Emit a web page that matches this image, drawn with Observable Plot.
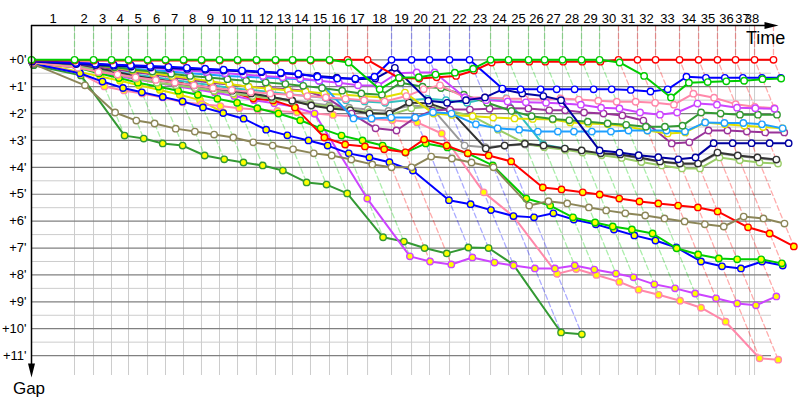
<!DOCTYPE html>
<html><head><meta charset="utf-8">
<script src="https://cdn.jsdelivr.net/npm/d3@7"></script>
<script src="https://cdn.jsdelivr.net/npm/@observablehq/plot@0.6"></script>
<style>html,body{margin:0;padding:0;background:#fff}#chart{position:absolute;left:0;top:0}</style>
</head><body><div id="chart"></div>
<script>
// leader's cumulative time (minutes) at the end of each lap, lap 0 = start
const lapTimes = [0,3.91,5.64,7.27,8.82,10.55,12.18,13.82,15.45,17.09,18.73,20.45,22.18,23.73,25.36,27.09,28.73,30.55,32.73,34.55,36.18,38.0,39.82,41.73,43.36,45.18,46.64,48.27,50.0,51.64,53.36,55.09,56.73,58.91,60.64,62.36,64.0,65.73,67.45];
// grey vertical grid lines (minutes)
const gridTimes = [3.91,5.64,7.27,8.82,10.55,12.18,13.82,15.45,17.09,18.73,20.45,22.18,23.73,25.36,27.09,28.73,30.55,32.73,34.55,36.18,38.0,39.82,41.73,43.36,45.18,46.64,48.27,50.0,51.64,53.36,55.09,56.73,58.91,60.64,62.36,64.0,65.27,65.73];
const lapLabels = d3.range(1, 39).map(String);
const gapTicks = d3.range(0, 12);

// gap to leader (minutes) per lap, index = lap (0 = start)
const N = null;
const redW     = [0.02,0.03,0.03,0.03,0.03,0.03,0.03,0.03,0.03,0.03,0.03,0.03,0.03,0.03,0.03,0.03,0,0,0.68,0.7,0.65,0.6,0.4,0.1,0.07,0.07,0.07,0.07,0.07,0.07,0,0,0,0,0,0,0,0,0];
const greenW   = [0,0,0,0,0,0,0,0,0,0,0,0,0,0,0,0,0.1,1.1,0.67,0.65,0.55,0.48,0.33,0,0,0,0,0,0,0,0.1,0.6,1.4,0.85,0.83,0.8,0.78,0.72,0.7];
const blueA    = [0.04,0.12,0.15,0.18,0.2,0.23,0.26,0.3,0.33,0.37,0.4,0.44,0.48,0.52,0.63,0.7,0.7,0.63,0,0,0,0,0,1.07,1.1,1.1,1.1,1.1,1.1,1.1,1.12,1.18,1.1,0.63,0.67,0.67,0.67,0.67,0.67];
const blueB    = [0.06,0.16,0.19,0.22,0.25,0.28,0.31,0.34,0.37,0.4,0.43,0.46,0.5,0.55,0.6,0.66,0.72,0.7,0.3,1.52,1.6,1.5,1.4,1.1,1.25,1.35,1.5,3.37,3.45,3.55,3.62,3.7,3.63,3.1,3.1,3.1,3.1,3.1,N];
const magentaW = [0.03,0.1,0.15,0.2,0.25,0.3,0.35,0.4,0.45,0.5,0.55,0.6,0.65,0.7,0.78,0.85,0.95,0.96,0.5,0.47,0.47,1.4,1.5,1.55,1.58,1.6,1.63,1.67,1.78,1.81,1.96,2.04,1.96,1.63,1.67,1.78,1.8,1.82,N];
const pinkW    = [0.1,0.3,0.45,0.55,0.65,0.75,0.85,0.95,1.05,1.12,1.2,1.25,1.3,1.35,1.4,1.45,1.5,1.55,1.35,1.1,0.95,1.4,1.4,1.45,1.45,1.48,1.44,1.48,1.52,1.56,1.56,1.6,1.67,1.26,1.41,1.65,1.75,1.8,N];
const dkgreenW = [0.05,0.12,0.2,0.28,0.36,0.44,0.52,0.6,0.66,0.72,0.78,0.84,0.9,0.97,1.05,1.15,1.25,1.3,0.85,1.0,1.05,1.3,1.6,1.9,2.1,2.2,2.25,2.3,2.37,2.42,2.49,2.49,2.45,1.96,2.0,2.04,2.04,2.04,N];
const lblueW   = [0.03,0.1,0.18,0.25,0.32,0.38,0.44,0.5,0.55,0.6,0.63,0.66,0.7,0.72,0.78,2.18,2.18,2.15,2.15,1.95,2.0,2.4,2.55,2.6,2.67,2.67,2.67,2.67,2.67,2.63,2.63,2.63,2.67,2.33,2.35,2.35,2.4,2.55,N];
const yellowW  = [0.05,0.1,0.2,0.3,0.4,0.5,0.6,0.7,0.8,0.9,1.0,1.08,1.13,1.18,1.25,1.3,1.35,1.4,1.22,2.0,2.05,2.1,2.15,2.18,2.2,2.22,2.33,2.37,2.4,2.48,2.63,2.74,2.7,2.33,2.4,2.45,2.5,2.55,N];
const purpleW  = [0.06,0.15,0.25,0.35,0.45,0.55,0.65,0.75,0.85,0.92,1.0,1.05,1.1,1.15,1.4,2.0,2.55,2.63,2.15,1.89,1.85,1.85,1.82,1.8,1.81,1.88,1.88,1.96,2.0,2.07,2.26,3.11,3.07,2.63,2.63,2.67,2.7,2.7,N];
const blackW   = [0.1,0.15,0.3,0.45,0.6,0.72,0.85,0.95,1.05,1.15,1.25,1.38,1.52,1.7,1.81,1.88,2.0,2.0,1.59,1.63,1.88,3.3,3.19,3.12,3.19,3.3,3.37,3.48,3.52,3.63,3.78,3.86,3.86,3.45,3.56,3.63,3.71,N,N];
const grayW    = [0.08,0.2,0.35,0.5,0.62,0.75,0.88,1.0,1.1,1.2,1.3,1.4,1.5,1.6,1.7,1.78,1.85,1.9,1.7,1.75,3.19,3.25,3.19,3.15,3.22,3.33,3.4,3.5,3.55,3.66,3.8,3.88,3.88,3.48,3.58,3.66,3.74,N,N];
const lgreenW  = [0.1,0.25,0.4,0.55,0.7,0.85,0.95,1.05,1.15,1.25,1.35,1.45,1.55,1.65,1.75,1.85,1.95,2.05,1.8,1.75,1.9,2.1,2.6,3.1,3.25,3.35,3.45,3.55,3.65,3.8,3.93,4.04,4.04,3.63,3.74,3.82,3.86,N,N];
const cyanW    = [0.07,0.2,0.32,0.44,0.55,0.65,0.75,0.85,0.95,1.05,1.12,1.2,1.28,1.35,1.42,1.5,1.55,1.6,1.5,1.45,1.5,1.6,1.45,1.44,3.15,3.3,N,N,N,N,N,N,N,N,N,N,N,N,N];
const oliveW   = [0.15,0.95,1.96,2.26,2.37,2.56,2.67,2.78,2.89,3.07,3.19,3.33,3.48,3.56,3.71,3.89,4.0,4.0,3.6,3.67,3.82,4.0,5.42,5.26,5.34,5.49,5.6,5.71,5.79,5.9,6.01,6.12,6.2,5.83,5.9,6.09,N,N,N];
const redY     = [0.05,0.25,0.35,0.43,0.62,0.69,0.77,1.03,1.14,1.22,1.44,1.51,1.77,2.89,3.15,3.22,3.33,3.44,2.96,3.19,3.48,3.56,3.78,4.75,4.82,4.93,5.01,5.16,5.27,5.34,5.42,5.49,5.64,6.23,6.46,6.94,N,N,N];
const greenY   = [0.1,0.3,0.5,0.68,0.85,1.0,1.15,1.3,1.45,1.6,1.8,2.0,2.25,2.55,2.82,3.0,3.19,3.45,3.11,3.26,3.48,3.93,5.16,5.42,5.86,6.05,6.2,6.31,6.46,7.01,7.24,7.39,7.42,7.42,7.57,N,N,N,N];
const blueY    = [0.15,0.5,0.81,1.05,1.21,1.38,1.55,1.77,1.98,2.19,2.6,2.81,3.0,3.19,3.48,3.63,3.81,4.12,5.22,5.37,5.59,5.81,5.86,5.71,5.94,6.12,6.31,6.53,6.72,6.98,7.5,7.68,7.76,7.5,7.65,N,N,N,N];
const magentaY = [0.1,0.3,0.45,0.6,0.72,0.85,0.98,1.1,1.22,1.35,1.5,1.62,1.75,2.0,5.16,7.31,7.5,7.61,7.35,7.54,7.65,7.76,7.76,7.65,7.8,7.95,8.09,8.35,8.5,8.69,8.87,9.06,9.13,8.8,N,N,N,N,N];
const pinkY    = [0.1,0.5,0.99,1.14,1.25,1.4,1.58,1.65,1.72,1.8,1.85,1.9,1.95,2.0,2.05,2.1,2.2,2.25,2.33,2.74,4.93,5.83,7.96,7.78,8.0,8.26,8.55,8.74,8.96,9.22,9.74,11.1,11.15,N,N,N,N,N,N];
const dkgreenY = [0.2,0.58,2.82,2.93,3.11,3.19,3.56,3.7,3.82,3.93,4.12,4.56,4.64,4.97,6.6,6.76,7.0,7.2,6.98,7.0,7.61,10.14,10.21,N,N,N,N,N,N,N,N,N,N,N,N,N,N,N,N];
const yellowY  = [0.08,0.45,0.62,0.78,0.95,1.12,1.3,1.5,1.96,N,N,N,N,N,N,N,N,N,N,N,N,N,N,N,N,N,N,N,N,N,N,N,N,N,N,N,N,N,N];

const W = "#ffffff", Y = "#ffff00";
const series = [
  {gaps: yellowY,  color: "#e0e000", fill: Y},
  {gaps: dkgreenY, color: "#339933", fill: Y},
  {gaps: pinkY,    color: "#ff88aa", fill: Y},
  {gaps: magentaY, color: "#cc44ff", fill: Y},
  {gaps: blueY,    color: "#0000ff", fill: Y},
  {gaps: greenY,   color: "#00cc00", fill: Y},
  {gaps: redY,     color: "#ff0000", fill: Y},
  {gaps: oliveW,   color: "#8c8658", fill: W},
  {gaps: cyanW,    color: "#33c0c0", fill: W},
  {gaps: grayW,    color: "#999999", fill: W},
  {gaps: lgreenW,  color: "#99cc66", fill: W},
  {gaps: blackW,   color: "#333333", fill: W},
  {gaps: purpleW,  color: "#993399", fill: W},
  {gaps: yellowW,  color: "#e0e000", fill: W},
  {gaps: lblueW,   color: "#1ea0ff", fill: W},
  {gaps: dkgreenW, color: "#339933", fill: W},
  {gaps: pinkW,    color: "#ff88aa", fill: W},
  {gaps: magentaW, color: "#cc44ff", fill: W},
  {gaps: blueB,    color: "#0000a0", fill: W},
  {gaps: blueA,    color: "#0000ff", fill: W},
  {gaps: redW,     color: "#ff0000", fill: W},
  {gaps: greenW,   color: "#00cc00", fill: W}
];

const XMAX = 67.27, YT = -1.275, YB = 11.74;
const marks = [];
marks.push(Plot.ruleY(d3.range(0.5, 11, 1), {x1: 0, x2: XMAX, stroke: "#cccccc", strokeWidth: 1}));
marks.push(Plot.ruleX(gridTimes, {y1: YT, y2: YB, stroke: "#cccccc", strokeWidth: 1}));
marks.push(Plot.ruleY(gapTicks, {x1: 0, x2: XMAX, stroke: "#808080", strokeWidth: 1.2}));

// dashed lap lines (a lap's points all lie on x = leaderTime + gap)
for (let n = 1; n < lapTimes.length; n++) {
  let gmax = 0, gmin = Infinity, lead = null;
  for (const s of series) {
    const g = s.gaps[n];
    if (g == null) continue;
    if (g > gmax) gmax = g;
    if (g < gmin) { gmin = g; lead = s; }
  }
  const pts = [{t: lapTimes[n], g: YT}, {t: lapTimes[n], g: 0}, {t: lapTimes[n] + gmax, g: gmax}];
  marks.push(Plot.line(pts, {x: "t", y: "g", stroke: lead.color, strokeOpacity: 0.33, strokeWidth: 1.3, strokeDasharray: "5,3"}));
}

for (const s of series) {
  const rows = s.gaps.map((g, i) => g == null ? null : {t: lapTimes[i] + g, g}).filter(Boolean);
  marks.push(Plot.line(rows, {x: "t", y: "g", stroke: s.color, strokeWidth: 2}));
  marks.push(Plot.dot(rows, {x: "t", y: "g", r: 3.2, stroke: s.color, fill: s.fill, strokeWidth: 1.4}));
}

// axes
const arrowSym = {draw(ctx) { ctx.moveTo(7, 0); ctx.lineTo(-7, -3.5); ctx.lineTo(-7, 3.5); ctx.closePath(); }};
marks.push(Plot.ruleY([YT], {x1: 0, x2: XMAX, stroke: "#000", strokeWidth: 1.5}));
marks.push(Plot.ruleX([0], {y1: YT, y2: 11.55, stroke: "#000", strokeWidth: 1.5}));
marks.push(Plot.dot([0], {x: XMAX, y: YT, symbol: arrowSym, r: 5, fill: "#000", stroke: "none"}));
marks.push(Plot.dot([0], {x: 0, y: 11.55, symbol: arrowSym, r: 5, fill: "#000", stroke: "none", rotate: 90}));

const bounds = [0, ...gridTimes];
const labelData = lapLabels.map((l, i) => ({t: (bounds[i] + bounds[i + 1]) / 2, l}));
marks.push(Plot.text(labelData, {x: "t", y: YT, text: "l", dy: -7, fontSize: 13, fill: "#000"}));
marks.push(Plot.text(gapTicks, {x: 0, y: d => d, text: d => `+${d}'`, textAnchor: "end", dx: -5, fontSize: 13, fill: "#000"}));
marks.push(Plot.text(["Time"], {x: 66.73, y: -0.79, text: d => d, fontSize: 18, fill: "#000"}));
marks.push(Plot.text(["Gap"], {x: -0.23, y: 12.22, text: d => d, fontSize: 17, fill: "#000"}));

const chart = Plot.plot({
  width: 800, height: 400,
  marginLeft: 31, marginRight: 29, marginTop: 25, marginBottom: 25,
  x: {domain: [0, XMAX], axis: null},
  y: {domain: [YT, YB], reverse: true, axis: null},
  style: {fontFamily: "Liberation Sans, Arial, sans-serif", background: "#fff", overflow: "visible"},
  marks
});
document.getElementById("chart").appendChild(chart);
</script></body></html>
